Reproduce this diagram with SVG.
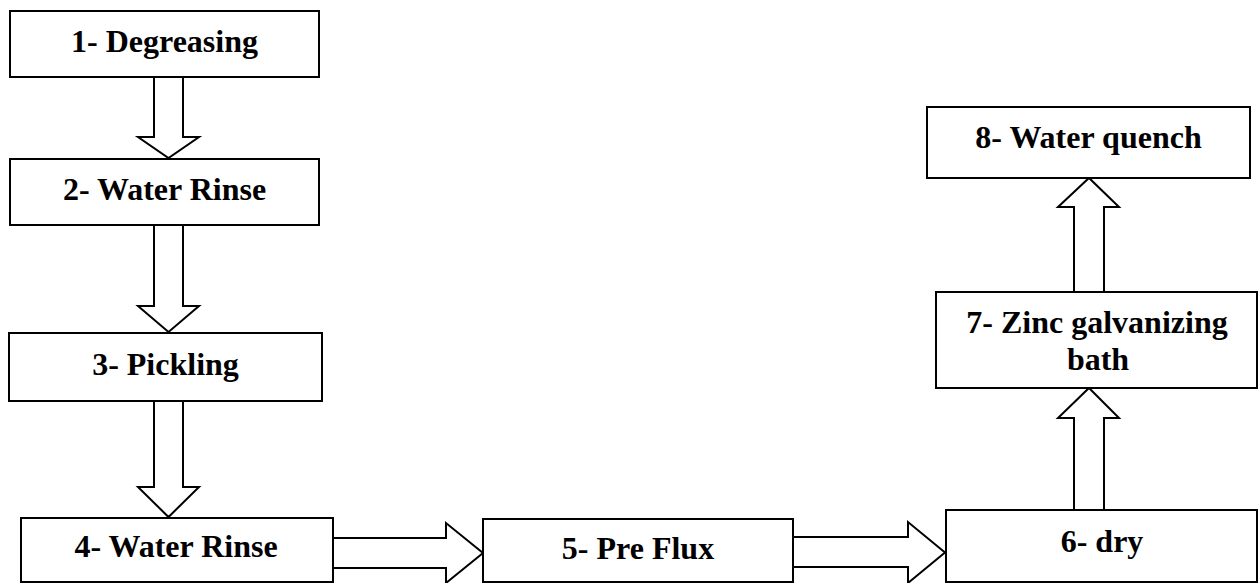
<svg xmlns="http://www.w3.org/2000/svg" width="1258" height="583" viewBox="0 0 1258 583">
<style>
.box{fill:#fff;stroke:#000;stroke-width:2}
.arr{fill:#fff;stroke:#000;stroke-width:2;stroke-linejoin:miter}
.t{font-family:"Liberation Serif","Times New Roman",serif;font-weight:bold;font-size:32px;text-anchor:middle;fill:#000}
</style>
<rect width="1258" height="583" fill="#fff"/>
<g id="connectors">
<polygon class="arr" points="154,77 183,77 183,137 199,137 168.5,158 138,137 154,137"/>
<polygon class="arr" points="154,225 183,225 183,306 199,306 168.5,332 138,306 154,306"/>
<polygon class="arr" points="154,401 183,401 183,487 199,487 168.5,517 138,487 154,487"/>
<polygon class="arr" points="333,538 446,538 446,523 483,553 446,583 446,568 333,568"/>
<polygon class="arr" points="793,537 908,537 908,522 945,552.5 908,583 908,567 793,567"/>
<polygon class="arr" points="1074,510 1074,418 1058,418 1089,388 1119,418 1104,418 1104,510"/>
<polygon class="arr" points="1074,292 1074,207 1058,207 1089,178 1119,207 1104,207 1104,292"/>
</g>
<g id="n1"><rect class="box" x="10" y="11" width="309" height="66"/><text class="t" x="164.5" y="52">1- Degreasing</text></g>
<g id="n2"><rect class="box" x="10" y="159" width="309" height="66"/><text class="t" x="164.5" y="200">2- Water Rinse</text></g>
<g id="n3"><rect class="box" x="9" y="333" width="313" height="68"/><text class="t" x="165.5" y="375">3- Pickling</text></g>
<g id="n4"><rect class="box" x="21" y="518" width="312" height="64"/><text class="t" x="176" y="557">4- Water Rinse</text></g>
<g id="n5"><rect class="box" x="483" y="519" width="310" height="63"/><text class="t" x="638" y="559">5- Pre Flux</text></g>
<g id="n6"><rect class="box" x="946" y="510" width="311" height="72"/><text class="t" x="1102" y="552">6- dry</text></g>
<g id="n7"><rect class="box" x="936" y="292" width="321" height="96"/><text class="t" x="1097" y="333">7- Zinc galvanizing</text><text class="t" x="1098" y="370">bath</text></g>
<g id="n8"><rect class="box" x="927" y="107" width="323" height="71"/><text class="t" x="1088.5" y="148">8- Water quench</text></g>
</svg>
